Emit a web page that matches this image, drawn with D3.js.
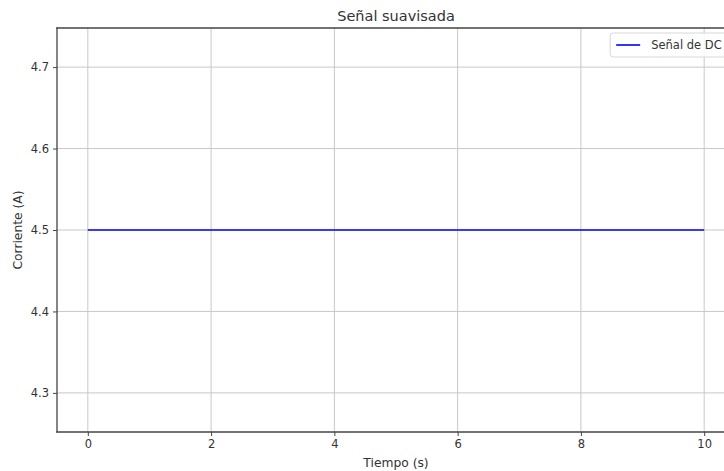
<!DOCTYPE html>
<meta charset="utf-8">
<script src="https://d3js.org/d3.v7.js"></script>
<style>
  body { margin: 0; background: #fff; overflow: hidden; }
  text { font-family: "DejaVu Sans", sans-serif; fill: #333; }
</style>
<div id="chart"></div>
<script>
// data
const time = [0, 10];
const current = [4.5, 4.5];
const xTicks = [0, 2, 4, 6, 8, 10];
const yTicks = [4.3, 4.4, 4.5, 4.6, 4.7];

const W = 724, H = 471;
const margin = {top: 28, right: -11, bottom: 39, left: 57};
const width = W - margin.left - margin.right,
      height = H - margin.top - margin.bottom;

const svg = d3.select("#chart").append("svg")
    .attr("width", W).attr("height", H);
const g = svg.append("g").attr("transform", `translate(${margin.left},${margin.top})`);

const x = d3.scaleLinear().domain([-0.5, 10.5]).range([0, width]);
const y = d3.scaleLinear().domain([4.252, 4.748]).range([height, 0]);

// grid
g.selectAll(".vg").data(xTicks).join("line")
  .attr("x1", d => x(d)).attr("x2", d => x(d))
  .attr("y1", 0).attr("y2", height)
  .attr("stroke", "#c8c8c8").attr("stroke-width", 1);
g.selectAll(".hg").data(yTicks).join("line")
  .attr("x1", 0).attr("x2", width)
  .attr("y1", d => y(d)).attr("y2", d => y(d))
  .attr("stroke", "#c8c8c8").attr("stroke-width", 1);

// line
g.append("path")
  .datum(time.map((t, i) => [t, current[i]]))
  .attr("fill", "none").attr("stroke", "#0000ff").attr("stroke-width", 1.6)
  .attr("d", d3.line().x(d => x(d[0])).y(d => y(d[1])));

// axes
const xAxis = g.append("g").attr("transform", `translate(0,${height})`)
  .call(d3.axisBottom(x).tickValues(xTicks).tickFormat(d3.format("d")).tickSize(4).tickPadding(4));
const yAxis = g.append("g")
  .call(d3.axisLeft(y).tickValues(yTicks).tickFormat(d3.format(".1f")).tickSize(4).tickPadding(4));
[xAxis, yAxis].forEach(a => {
  a.select(".domain").remove();
  a.selectAll("text").style("font-size", "11.5px").attr("fill", "#333");
  a.selectAll("line").attr("stroke", "#444");
});
// spines
const spine = (x1, y1, x2, y2) => g.append("line")
  .attr("x1", x1).attr("y1", y1).attr("x2", x2).attr("y2", y2)
  .attr("stroke", "#444").attr("stroke-width", 1.3).attr("stroke-linecap", "square");
spine(0, 0, width, 0);
spine(0, height, width, height);
spine(0, 0, 0, height);

// labels
svg.append("text").attr("x", margin.left + width / 2).attr("y", 21)
  .attr("text-anchor", "middle").style("font-size", "14.5px").text("Señal suavisada");
svg.append("text").attr("x", margin.left + width / 2).attr("y", 467)
  .attr("text-anchor", "middle").style("font-size", "12.3px").text("Tiempo (s)");
svg.append("text").attr("transform", `translate(22,${margin.top + height / 2}) rotate(-90)`)
  .attr("text-anchor", "middle").style("font-size", "12.3px").text("Corriente (A)");

// legend
const lg = g.append("g").attr("transform", `translate(${x(10) - 94},5)`);
lg.append("rect").attr("width", 130).attr("height", 24).attr("rx", 3)
  .attr("fill", "#fff").attr("fill-opacity", 0.8).attr("stroke", "#d8d8d8");
lg.append("line").attr("x1", 6).attr("x2", 30).attr("y1", 12).attr("y2", 12)
  .attr("stroke", "#0000ff").attr("stroke-width", 1.6);
lg.append("text").attr("x", 41).attr("y", 16).style("font-size", "11.5px").text("Señal de DC");
</script>
